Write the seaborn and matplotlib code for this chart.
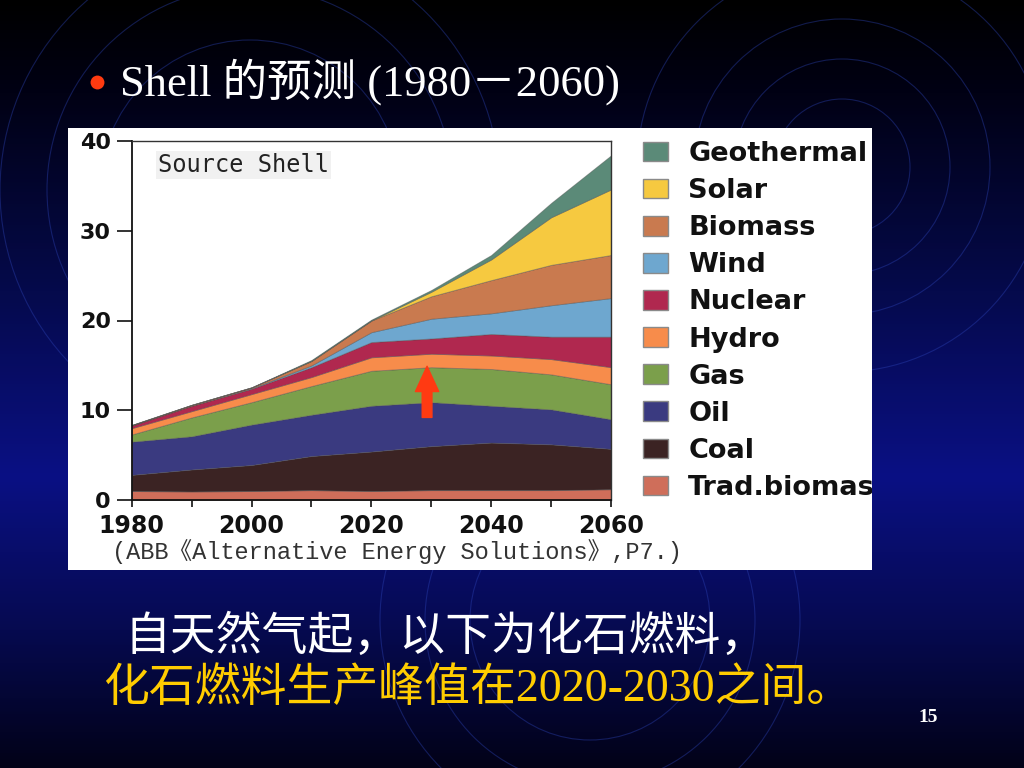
import numpy as np
import matplotlib
matplotlib.use("Agg")
import matplotlib.pyplot as plt
import seaborn as sns
from matplotlib.patches import Patch, Circle, Rectangle
from matplotlib.colors import LinearSegmentedColormap
from matplotlib.transforms import Bbox, TransformedBbox

# ---------------- data ----------------
years = [1980, 1990, 2000, 2010, 2020, 2030, 2040, 2050, 2060]
trad_biomass = [1.0, 0.95, 1.0, 1.1, 1.0, 1.1, 1.1, 1.1, 1.2]
coal = [1.8, 2.45, 2.9, 3.8, 4.4, 4.9, 5.3, 5.1, 4.5]
oil = [3.7, 3.7, 4.5, 4.6, 5.1, 4.9, 4.1, 3.9, 3.3]
gas = [0.8, 2.1, 2.5, 3.2, 3.9, 3.9, 4.1, 3.9, 3.9]
hydro = [0.7, 0.7, 0.9, 1.0, 1.5, 1.5, 1.5, 1.7, 1.9]
nuclear = [0.3, 0.6, 0.6, 1.1, 1.7, 1.7, 2.4, 2.5, 3.4]
wind = [0.0, 0.0, 0.05, 0.2, 1.1, 2.2, 2.3, 3.5, 4.3]
biomass = [0.05, 0.1, 0.1, 0.5, 1.3, 2.5, 3.7, 4.5, 4.8]
solar = [0.0, 0.0, 0.0, 0.0, 0.0, 0.5, 2.3, 5.3, 7.3]
geothermal = [0.0, 0.0, 0.0, 0.1, 0.1, 0.2, 0.5, 1.6, 3.8]

series_names = ["Trad.biomass", "Coal", "Oil", "Gas", "Hydro", "Nuclear",
                "Wind", "Biomass", "Solar", "Geothermal"]
series_colors = ["#cf6e5a", "#3b2323", "#3a3a80", "#7b9f4b", "#f78c4b",
                 "#b0284f", "#6ea7cf", "#c97a4f", "#f6c940", "#5b8a78"]

yticks = [0, 10, 20, 30, 40]
xticks = [1980, 1990, 2000, 2010, 2020, 2030, 2040, 2050, 2060]
xticklabels = ["1980", "", "2000", "", "2020", "", "2040", "", "2060"]

title_text = "Shell 的预测 (1980－2060)"
line1_text = "自天然气起，以下为化石燃料，"
line2_text = "化石燃料生产峰值在2020-2030之间。"
source_text = "Source Shell"
caption_text = "(ABB《Alternative Energy Solutions》,P7.)"
page_text = "15"

# ---------------- style ----------------
sns.set_theme(style="ticks")
plt.rcParams["font.family"] = ["DejaVu Sans", "Noto Sans CJK SC"]
serif_cjk = ["Liberation Serif", "Noto Sans CJK SC"]

W, H = 1024, 768
fig = plt.figure(figsize=(W / 100, H / 100), dpi=100)

# ---------------- slide background ----------------
bg = fig.add_axes([0, 0, 1, 1])
bg.set_xlim(0, W)
bg.set_ylim(H, 0)
bg.axis("off")
cmap = LinearSegmentedColormap.from_list(
    "slide", [(0.0, "#000000"), (0.12, "#010114"), (0.38, "#050a4c"),
              (0.62, "#0a1084"), (0.82, "#060a50"), (1.0, "#020218")])
grad = np.linspace(0, 1, 512).reshape(-1, 1)
bg.imshow(grad, cmap=cmap, extent=(0, W, H, 0), aspect="auto", zorder=0)

arc_color = "#2d44b8"
for (cx, cy), radii in [((842, 167), [68, 108, 148, 205]),
                        ((250, 190), [150, 203, 250]),
                        ((590, 620), [120, 165, 210])]:
    for r in radii:
        bg.add_patch(Circle((cx, cy), r, fill=False, ec=arc_color, lw=0.8,
                            alpha=0.4, zorder=1))

# white picture panel
bg.add_patch(Rectangle((68, 128), 804, 442, fc="white", ec="none", zorder=2))

# bullet + title
bg.plot([97], [82], "o", ms=10, color="#ff3a10", mec="none", zorder=3)
bg.text(120, 96, title_text, family=serif_cjk, size=32, color="white",
        va="baseline", ha="left", zorder=3)
bg.text(125, 638, line1_text, family=serif_cjk, size=33, color="white",
        va="center", ha="left", zorder=3)
bg.text(103, 690, line2_text, family=serif_cjk, size=33, color="#ffcc00",
        va="center", ha="left", zorder=3)
bg.text(928, 718, page_text, family="Liberation Serif", size=14,
        weight="bold", color="white", va="center", ha="center", zorder=3)

# ---------------- chart ----------------
ax = fig.add_axes([131.7 / W, (H - 500) / H, 479.3 / W, 359 / H])
ax.set_facecolor("white")
stack = [trad_biomass, coal, oil, gas, hydro, nuclear, wind, biomass,
         solar, geothermal]
ax.stackplot(years, *stack, colors=series_colors, labels=series_names,
             linewidth=0.6, edgecolor=(0.3, 0.3, 0.3, 0.45))
ax.set_xlim(1980, 2060)
ax.set_ylim(0, 40)
ax.set_xticks(xticks)
ax.set_xticklabels(xticklabels)
ax.set_yticks(yticks)
ax.tick_params(axis="x", direction="out", length=5, width=1.2, pad=5,
               labelsize=17, colors="#111111")
ax.tick_params(axis="y", direction="out", length=11, width=1.2, pad=4,
               labelsize=16, colors="#111111")
for lab in ax.get_xticklabels() + ax.get_yticklabels():
    lab.set_fontweight("bold")
    lab.set_family("DejaVu Sans")
for side, sp in ax.spines.items():
    sp.set_visible(True)
    sp.set_color("#111111" if side in ("left", "bottom") else "#333333")
    sp.set_linewidth(1.3 if side in ("left", "bottom") else 1.0)
ax.grid(False)

ax.text(0.055, 0.933, source_text, transform=ax.transAxes,
        family="DejaVu Sans Mono", size=17, color="#222222",
        va="center", ha="left",
        bbox=dict(fc="#f1f1f1", ec="none", pad=1.5))

# red arrow marking the peak of fossil fuels
ax.annotate("", xy=(2029.3, 14.9), xytext=(2029.3, 9.2),
            arrowprops=dict(arrowstyle="simple,head_length=1.3,head_width=1.2,tail_width=0.5",
                            color="#ff3a12", shrinkA=0, shrinkB=0,
                            mutation_scale=14))

# legend (top to bottom: Geothermal ... Trad.biomass)
handles = [Patch(facecolor=c, edgecolor="#8a8a8a", linewidth=1.0, label=n)
           for n, c in zip(series_names[::-1], series_colors[::-1])]
leg = ax.legend(handles=handles, loc="upper left",
                bbox_to_anchor=(643 / W, (H - 141) / H),
                bbox_transform=fig.transFigure, frameon=False,
                borderpad=0, borderaxespad=0, handlelength=0.93,
                handleheight=0.74, handletextpad=0.74, labelspacing=0.41,
                prop=dict(family="DejaVu Sans", weight="bold", size=19.5))
clipbb = TransformedBbox(Bbox.from_extents(68 / W, (H - 570) / H,
                                           872 / W, (H - 128) / H),
                         fig.transFigure)
for t in leg.get_texts():
    t.set_color("#111111")
    t.set_clip_box(clipbb)
    t.set_clip_on(True)

fig.text(112 / W, (H - 552) / H, caption_text,
         family=["Liberation Mono", "Noto Sans CJK SC"], size=17,
         color="#333333", va="center", ha="left")

fig.savefig("out.png", dpi=100)
